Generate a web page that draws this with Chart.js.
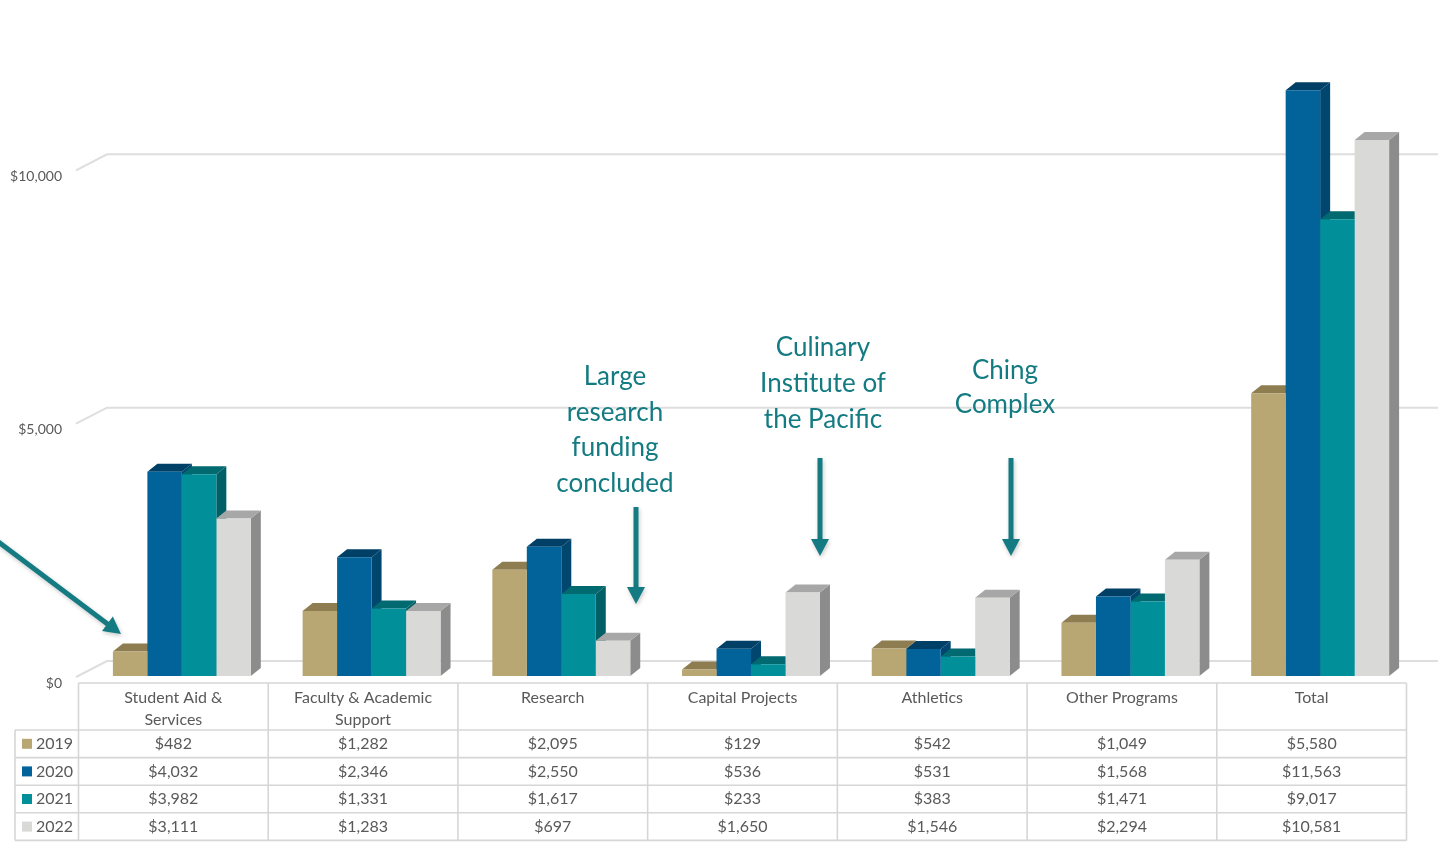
<!DOCTYPE html>
<html>
<head>
<meta charset="utf-8">
<script src="https://cdn.jsdelivr.net/npm/chart.js@4"></script>
<style>
  html, body { margin: 0; padding: 0; background: #fff; }
  #wrap { width: 1441px; height: 843px; position: relative; }
</style>
</head>
<body>
<div id="wrap"><canvas id="spendChart"></canvas></div>
<script>
// Spending by area, 2019-2022 (thousands)
const categories = [
  ["Student Aid &", "Services"],
  ["Faculty & Academic", "Support"],
  ["Research"],
  ["Capital Projects"],
  ["Athletics"],
  ["Other Programs"],
  ["Total"],
];
const years = ["2019", "2020", "2021", "2022"];
const values2019 = [482, 1282, 2095, 129, 542, 1049, 5580];
const values2020 = [4032, 2346, 2550, 536, 531, 1568, 11563];
const values2021 = [3982, 1331, 1617, 233, 383, 1471, 9017];
const values2022 = [3111, 1283, 697, 1650, 1546, 2294, 10581];
const yTicks = [0, 5000, 10000];

const noteResearch = ["Large", "research", "funding", "concluded"];
const noteCulinary = ["Culinary", "Institute of", "the Pacific"];
const noteChing = ["Ching", "Complex"];

// face colours per year: front, top, side
const frontColors = ["#b9a773", "#02639a", "#01909a", "#d9dad8"];
const topColors = ["#8e7d51", "#003f66", "#016970", "#a7a7a7"];
const sideColors = ["#83744b", "#00466f", "#015f66", "#8c8c8c"];

const FONT = "Lato, 'Open Sans', sans-serif";
const TEXT_GRAY = "#595959";
const GRID_GRAY = "#dedede";
const NOTE_COLOR = "#137b81";

const BAR_DX = 10, BAR_DY = 8;     // bar depth
const WALL_DX = 29, WALL_DY = 22;  // floor depth
const FRONT_OFF = 7, BACK_OFF = -15;

function money(v) {
  return "$" + v.toLocaleString("en-US");
}

function poly(ctx, pts, color) {
  ctx.beginPath();
  ctx.moveTo(pts[0][0], pts[0][1]);
  for (let k = 1; k < pts.length; k++) ctx.lineTo(pts[k][0], pts[k][1]);
  ctx.closePath();
  ctx.fillStyle = color;
  ctx.fill();
}

function drawArrow(ctx, x1, y1, x2, y2) {
  const ang = Math.atan2(y2 - y1, x2 - x1);
  const head = 17, half = 9;
  const cos = Math.cos(ang), sin = Math.sin(ang);
  const bx = x2 - head * cos, by = y2 - head * sin;
  ctx.save();
  ctx.strokeStyle = NOTE_COLOR;
  ctx.fillStyle = NOTE_COLOR;
  ctx.shadowColor = "rgba(0,0,0,0.22)";
  ctx.shadowBlur = 4;
  ctx.shadowOffsetX = 1;
  ctx.shadowOffsetY = 2;
  ctx.lineWidth = 5;
  ctx.beginPath();
  ctx.moveTo(x1, y1);
  ctx.lineTo(bx + cos, by + sin);
  ctx.stroke();
  ctx.beginPath();
  ctx.moveTo(x2, y2);
  ctx.lineTo(bx + half * sin, by - half * cos);
  ctx.lineTo(bx - half * sin, by + half * cos);
  ctx.closePath();
  ctx.fill();
  ctx.restore();
}

function drawNote(ctx, lines, cx, y0, step) {
  ctx.save();
  ctx.font = "26px " + FONT;
  ctx.fillStyle = NOTE_COLOR;
  ctx.textAlign = "center";
  ctx.textBaseline = "middle";
  lines.forEach((t, k) => ctx.fillText(t, cx, y0 + k * step));
  ctx.restore();
}

// back wall, floor, value labels and the side/top faces of every bar
const boxPlugin = {
  id: "box3d",
  beforeDatasetsDraw(chart) {
    const ctx = chart.ctx;
    const y = chart.scales.y;
    const xs = chart.scales.x;
    const frontX = xs.left - 9;
    const backX = frontX + WALL_DX;
    ctx.save();
    ctx.strokeStyle = GRID_GRAY;
    ctx.lineWidth = 2;
    yTicks.forEach((v) => {
      const fy = y.getPixelForValue(v) + FRONT_OFF;
      const by = y.getPixelForValue(v) + BACK_OFF;
      ctx.beginPath();
      ctx.moveTo(frontX - 2, fy - 6);
      ctx.lineTo(backX, by);
      ctx.lineTo(1438, by);
      ctx.stroke();
      ctx.font = "14px " + FONT;
      ctx.fillStyle = TEXT_GRAY;
      ctx.textAlign = "right";
      ctx.textBaseline = "middle";
      ctx.fillText(money(v), 62, fy);
    });
    ctx.restore();

    const n = chart.data.labels.length;
    for (let j = 0; j < n; j++) {
      chart.data.datasets.forEach((ds, i) => {
        const bar = chart.getDatasetMeta(i).data[j];
        const xl = bar.x - bar.width / 2;
        const xr = bar.x + bar.width / 2;
        const top = bar.y, base = bar.base;
        poly(ctx, [[xr, base], [xr + BAR_DX, base - BAR_DY], [xr + BAR_DX, top - BAR_DY], [xr, top]], sideColors[i]);
        poly(ctx, [[xl, top], [xr, top], [xr + BAR_DX, top - BAR_DY], [xl + BAR_DX, top - BAR_DY]], topColors[i]);
      });
    }
  },
  afterDraw(chart) {
    const ctx = chart.ctx;
    const xs = chart.scales.x;
    const n = chart.data.labels.length;
    const colW = (xs.right - xs.left) / n;
    const shift = 8.5;
    const tableLeft = xs.left - shift;
    const tableRight = xs.right - shift;
    const legendLeft = 15;
    const headTop = 683, headBottom = 730, rowH = 27.6;
    const rowsBottom = headBottom + rowH * years.length;

    ctx.save();
    ctx.strokeStyle = "#d6d6d6";
    ctx.lineWidth = 1.6;
    // horizontal rules
    ctx.beginPath();
    ctx.moveTo(tableLeft, headTop);
    ctx.lineTo(tableRight, headTop);
    for (let r = 0; r <= years.length; r++) {
      const yy = headBottom + r * rowH;
      ctx.moveTo(legendLeft, yy);
      ctx.lineTo(tableRight, yy);
    }
    // vertical rules
    for (let j = 0; j <= n; j++) {
      const xx = tableLeft + j * colW;
      ctx.moveTo(xx, headTop);
      ctx.lineTo(xx, rowsBottom);
    }
    ctx.moveTo(legendLeft, headBottom);
    ctx.lineTo(legendLeft, rowsBottom);
    ctx.stroke();

    ctx.font = "16px " + FONT;
    ctx.fillStyle = TEXT_GRAY;
    ctx.textAlign = "center";
    ctx.textBaseline = "middle";
    chart.data.labels.forEach((lab, j) => {
      const cx = xs.getPixelForValue(j) - shift;
      lab.forEach((line, k) => ctx.fillText(line, cx, 698 + k * 22));
    });

    chart.data.datasets.forEach((ds, i) => {
      const cy = headBottom + rowH * i + rowH / 2;
      ctx.fillStyle = frontColors[i];
      ctx.fillRect(22, cy - 5, 10, 10);
      ctx.fillStyle = TEXT_GRAY;
      ctx.textAlign = "left";
      ctx.fillText(ds.label, 36, cy);
      ctx.textAlign = "center";
      ds.data.forEach((v, j) => {
        ctx.fillText(money(v), xs.getPixelForValue(j) - shift, cy);
      });
    });
    ctx.restore();

    drawNote(ctx, noteResearch, 615, 377, 35.5);
    drawNote(ctx, noteCulinary, 823, 348, 36);
    drawNote(ctx, noteChing, 1005, 371, 34);
    drawArrow(ctx, 636, 507, 636, 604);
    drawArrow(ctx, 820, 458, 820, 556);
    drawArrow(ctx, 1011, 458, 1011, 556);
    drawArrow(ctx, -4, 540, 121, 634);
  },
};

const seriesValues = [values2019, values2020, values2021, values2022];

new Chart(document.getElementById("spendChart").getContext("2d"), {
  type: "bar",
  data: {
    labels: categories,
    datasets: years.map((yr, i) => ({
      label: yr,
      data: seriesValues[i],
      backgroundColor: frontColors[i],
      borderWidth: 0,
      categoryPercentage: 0.727,
      barPercentage: 1.0,
    })),
  },
  options: {
    responsive: true,
    maintainAspectRatio: false,
    animation: false,
    layout: { padding: { left: 87, right: 26, top: 68, bottom: 167 } },
    scales: {
      x: { display: false },
      y: { display: false, min: 0, max: 12000 },
    },
    plugins: {
      legend: { display: false },
      tooltip: { enabled: false },
    },
  },
  plugins: [boxPlugin],
});
</script>
</body>
</html>
